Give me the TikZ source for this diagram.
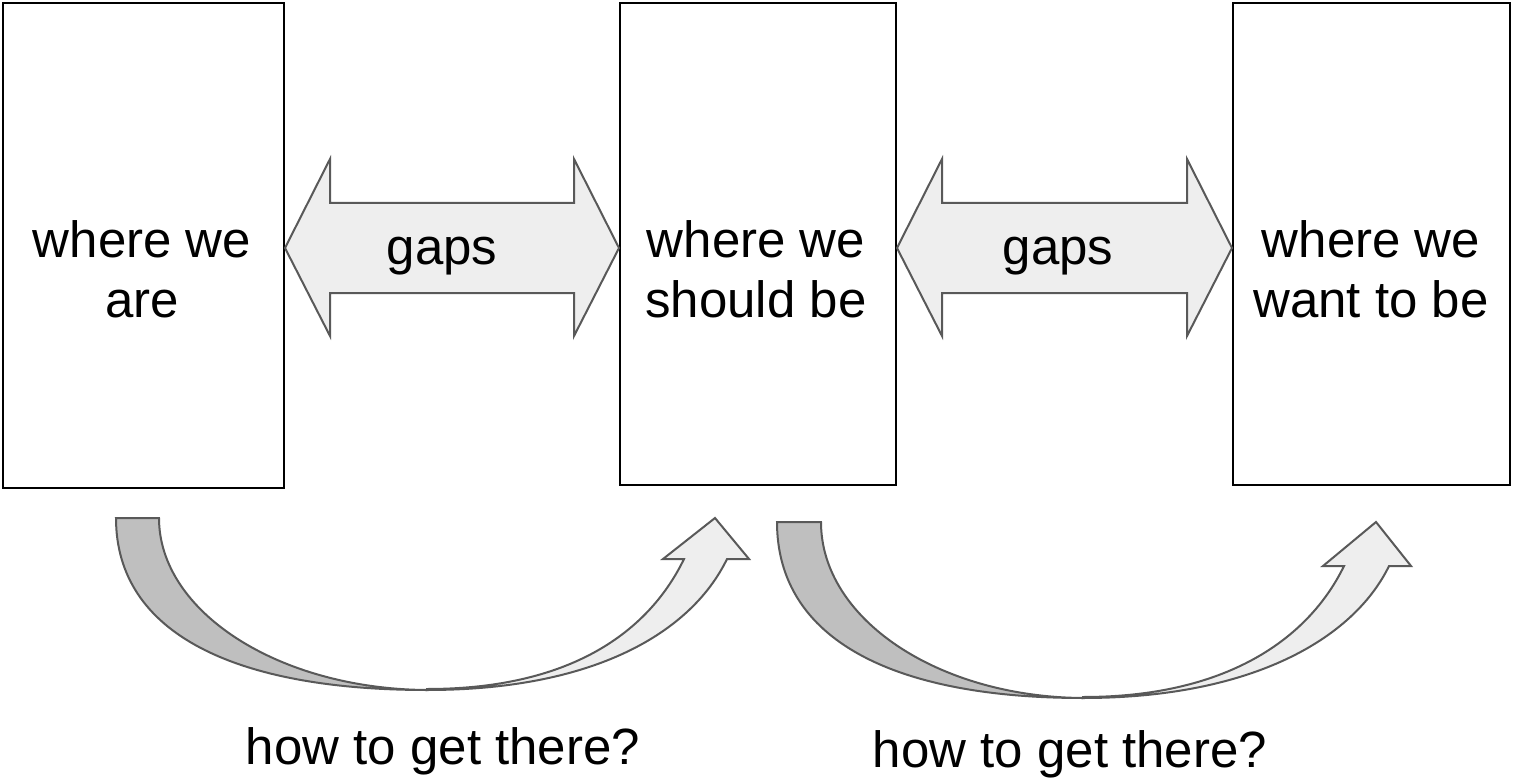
\documentclass[tikz,border=0pt]{standalone}
\usepackage{fontspec}
\setmainfont{Liberation Sans}
\definecolor{edge}{HTML}{595959}
\definecolor{lightfill}{HTML}{EEEEEE}
\definecolor{darkfill}{HTML}{BFBFBF}
\begin{document}
\begin{tikzpicture}[x=1pt,y=-1pt,
  box/.style={draw=black, line width=2pt, inner sep=0pt, rectangle},
  txt/.style={inner sep=0pt, align=center, font=\fontsize{51}{60}\selectfont},
  gapsarrow/.style={draw=edge, fill=lightfill, line width=2pt, line join=miter},
  lightpart/.style={draw=edge, fill=lightfill, line width=2pt, line join=miter},
  darkpart/.style={draw=edge, fill=darkfill, line width=2pt, line join=miter}]
\useasboundingbox (0,0) rectangle (1513,778);

% boxes
\node[box, minimum width=281pt, minimum height=485pt] (b1) at (143.5,245.5) {};
\node[box, minimum width=276pt, minimum height=482pt] (b2) at (758,244) {};
\node[box, minimum width=277pt, minimum height=482pt] (b3) at (1371.5,244) {};

\node[txt, anchor=north] (t1) at (142,220.5) {where we\\are};
\node[txt, anchor=north] (t2) at (756,220.5) {where we\\should be};
\node[txt, anchor=north] (t3) at (1371,220.5) {where we\\want to be};

% double arrows "gaps"
\draw[gapsarrow] (285,248) -- (330,159) -- (330,203) -- (574,203) -- (574,159)
  -- (619,248) -- (574,336) -- (574,293) -- (330,293) -- (330,336) -- cycle;
\node[txt, anchor=base] (g1) at (442,265) {gaps};

\draw[gapsarrow] (897,248) -- (942,159) -- (942,203) -- (1187,203) -- (1187,159)
  -- (1232,248) -- (1187,336) -- (1187,293) -- (942,293) -- (942,336) -- cycle;
\node[txt, anchor=base] (g2) at (1058,265) {gaps};

% curved arrow 1
\draw[darkpart] (116,518) .. controls (116,634) and (236,690) .. (427,690)
  .. controls (279,689) and (159,612) .. (159,518) -- cycle;
\draw[lightpart] (427,690) .. controls (597,690) and (692,631) .. (727,559)
  -- (749,559) -- (715,518) -- (663,559) -- (684,559)
  .. controls (651,627) and (577,689) .. (427,689) -- cycle;
\node[txt, anchor=base] (h1) at (443,764) {how to get there?};

% curved arrow 2
\draw[darkpart] (777,522) .. controls (777,640) and (894,698) .. (1083,698)
  .. controls (938,697) and (821,619) .. (821,522) -- cycle;
\draw[lightpart] (1083,698) .. controls (1253,698) and (1354,638) .. (1389,566)
  -- (1411,566) -- (1376,522) -- (1323,566) -- (1344,566)
  .. controls (1311,634) and (1233,697) .. (1083,697) -- cycle;
\node[txt, anchor=base] (h2) at (1070,767) {how to get there?};
\end{tikzpicture}
\end{document}
